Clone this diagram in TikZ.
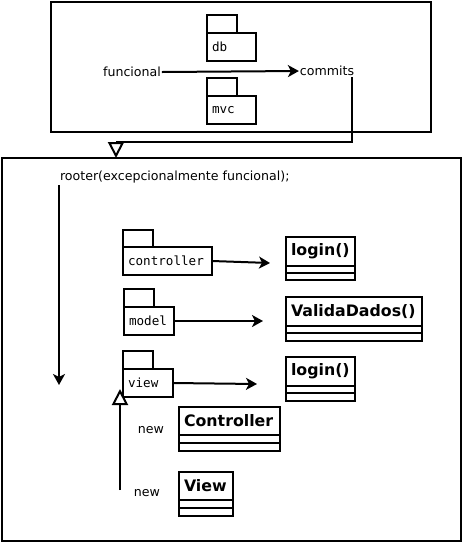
\documentclass[tikz,border=0pt]{standalone}
\usepackage{fontspec}
\setmainfont{DejaVu Sans}
\newfontfamily\monofont{DejaVu Sans Mono}
\usetikzlibrary{arrows.meta}
\begin{document}
\begin{tikzpicture}[x=1pt,y=-1pt, line width=2pt,
  frame/.style={draw, anchor=north west, inner sep=0pt, outer sep=0pt},
  lbl/.style={font=\fontsize{12.6}{14}\selectfont, inner sep=0pt},
  pkg/.style={draw, anchor=north west, minimum height=28pt, inner xsep=5pt, inner ysep=0pt, outer sep=0pt, align=left, font=\monofont\fontsize{12.6}{14}\selectfont},
  cls/.style={draw, anchor=north west, minimum height=29pt, inner xsep=5pt, inner ysep=0pt, outer sep=0pt, align=left, font=\bfseries\fontsize{15.8}{18}\selectfont},
  arr/.style={-{Stealth[length=11pt,width=12pt,inset=3pt]}},
  inh/.style={-{Triangle[open,length=16pt,width=16pt,fill=white]}}]
\useasboundingbox (0,0) rectangle (462,542);
% frames
\node[frame, minimum width=380pt, minimum height=130pt] (top) at (51,2) {};
\node[frame, minimum width=459pt, minimum height=383pt] (bot) at (2,158) {};
% top packages
\node[pkg, text width=39pt] (db) at (207,33) {db};
\draw (db.north west) rectangle ++(30,-18);
\node[pkg, text width=39pt] (mvc) at (207,96) {mvc};
\draw (mvc.north west) rectangle ++(30,-18);
% funcional -> commits
\node[lbl] (fun) at (132,72) {funcional};
\node[lbl] (commits) at (327,71) {commits};
\draw[arr] (fun.east) -- (commits.west);
\coordinate (cm) at (352,142);
\coordinate (tri) at (116,142);
\draw (commits.south -| cm) -- (cm) -- (tri);
\draw[inh] ([yshift=-1pt]tri) -- (tri |- bot.north);
% rooter
\node[lbl, anchor=west] (rooter) at (59,177) {rooter(excepcionalmente funcional);};
\coordinate (rstart) at (59,185);
\coordinate (rend) at (59,385);
\draw[arr] (rstart) -- (rend);
% packages
\node[pkg, text width=79pt] (ctrl) at (123,247) {controller};
\draw (ctrl.north west) rectangle ++(30,-17);
\node[pkg, text width=40pt] (model) at (124,307) {model};
\draw (model.north west) rectangle ++(30,-18);
\node[pkg, text width=40pt] (view) at (123,369) {view};
\draw (view.north west) rectangle ++(30,-18);
% classes
\node[cls, text width=59pt] (c1) at (286,237) {login()};
\draw (c1.south west) rectangle ++(69,7) rectangle ++(-69,7);
\node[cls, text width=126pt] (c2) at (286,297) {ValidaDados()};
\draw (c2.south west) rectangle ++(136,7) rectangle ++(-136,8);
\node[cls, text width=59pt] (c3) at (286,357) {login()};
\draw (c3.south west) rectangle ++(69,7) rectangle ++(-69,8);
\node[cls, text width=91pt, minimum height=28pt] (c4) at (179,407) {Controller};
\draw (c4.south west) rectangle ++(101,8) rectangle ++(-101,8);
\node[cls, text width=44pt, minimum height=28pt] (c5) at (179,472) {View};
\draw (c5.south west) rectangle ++(54,8) rectangle ++(-54,8);
% package arrows
\coordinate (e1) at (270,263);
\coordinate (e2) at (263,321);
\coordinate (e3) at (257,384);
\draw[arr] (ctrl.east) -- (e1);
\draw[arr] (model.east) -- (e2);
\draw[arr] (view.east) -- (e3);
% new labels and inheritance
\node[lbl] (new1) at (151,430) {new};
\node[lbl] (new2) at (147,493) {new};
\coordinate (is) at (120,490);
\coordinate (ie) at (120,389);
\draw[inh] (is) -- (ie);
\end{tikzpicture}
\end{document}
